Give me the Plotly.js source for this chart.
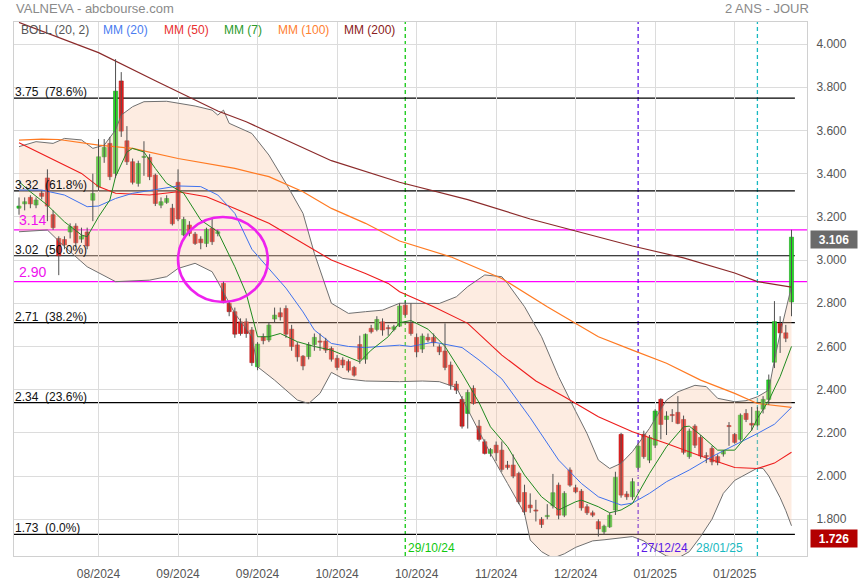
<!DOCTYPE html>
<html>
<head>
<meta charset="utf-8">
<script src="https://cdn.plot.ly/plotly-3.0.1.min.js"></script>
<style>html,body{margin:0;padding:0;background:#fff}#chart{width:860px;height:580px}</style>
</head>
<body>
<div id="chart"></div>
<script>
// ---- candles (trading-day index 0 = 25/07/2024) ----
const opens = [3.24,3.26,3.29,3.255,3.31,3.38,3.21,3.10,3.095,3.13,3.157,3.097,3.13,3.277,3.339,3.478,3.54,3.401,3.829,3.552,
3.455,3.355,3.475,3.475,3.393,3.254,3.267,3.24,3.36,3.116,3.162,3.12,3.097,3.077,3.147,3.123,2.892,2.80,2.761,2.714,
2.714,2.676,2.506,2.645,2.63,2.727,2.756,2.776,2.68,2.607,2.555,2.553,2.609,2.625,2.625,2.591,2.545,2.537,2.53,2.503,
2.609,2.541,2.684,2.679,2.714,2.686,2.679,2.694,2.791,2.707,2.642,2.588,2.642,2.642,2.598,2.579,2.514,2.426,2.355,2.29,
2.406,2.231,2.159,2.105,2.143,2.12,2.051,2.051,2.012,1.924,1.866,1.843,1.80,1.812,1.863,1.958,1.819,2.028,1.946,1.93,
1.858,1.83,1.789,1.742,1.765,1.843,2.193,1.917,1.904,2.04,2.193,2.074,2.143,2.355,2.262,2.285,2.295,2.262,2.09,2.231,
2.179,2.095,2.128,2.09,2.102,2.233,2.193,2.17,2.29,2.244,2.236,2.31,2.355,2.527,2.706,2.663,2.806];
const highs = [3.29,3.29,3.30,3.29,3.32,3.42,3.23,3.11,3.11,3.17,3.17,3.15,3.15,3.40,3.56,3.56,3.57,3.93,3.87,3.62,
3.47,3.46,3.55,3.49,3.40,3.29,3.30,3.26,3.42,3.20,3.18,3.13,3.11,3.15,3.193,3.14,2.90,2.81,2.78,2.73,
2.73,2.69,2.62,2.66,2.71,2.78,2.78,2.79,2.70,2.62,2.56,2.62,2.66,2.66,2.64,2.60,2.56,2.55,2.54,2.51,
2.65,2.66,2.70,2.74,2.73,2.70,2.70,2.80,2.81,2.80,2.66,2.66,2.66,2.66,2.61,2.707,2.53,2.44,2.37,2.40,
2.42,2.26,2.17,2.13,2.16,2.16,2.07,2.10,2.02,1.96,1.92,1.89,1.81,1.87,2.01,1.97,1.93,2.04,1.96,1.94,
1.87,1.84,1.80,1.775,1.83,2.02,2.20,1.93,1.99,2.15,2.21,2.19,2.31,2.36,2.30,2.31,2.37,2.28,2.22,2.24,
2.19,2.11,2.14,2.10,2.12,2.25,2.20,2.29,2.31,2.32,2.32,2.37,2.47,2.81,2.74,2.70,3.14];
const lows = [3.21,3.23,3.24,3.24,3.28,3.18,3.14,2.93,3.05,3.10,3.06,3.08,3.05,3.18,3.32,3.45,3.37,3.38,3.57,3.44,
3.35,3.34,3.39,3.37,3.25,3.24,3.26,3.16,3.18,3.11,3.11,3.07,3.05,3.06,3.07,3.11,2.80,2.74,2.64,2.65,
2.64,2.51,2.49,2.61,2.62,2.71,2.72,2.64,2.58,2.53,2.49,2.54,2.58,2.58,2.57,2.53,2.49,2.50,2.48,2.46,
2.52,2.52,2.66,2.67,2.65,2.65,2.67,2.69,2.74,2.65,2.55,2.57,2.62,2.60,2.56,2.49,2.40,2.38,2.22,2.22,
2.33,2.16,2.10,2.09,2.07,2.02,2.03,1.99,1.87,1.82,1.83,1.79,1.76,1.80,1.85,1.80,1.81,1.95,1.92,1.84,
1.82,1.81,1.72,1.73,1.76,1.82,1.90,1.89,1.89,2.03,2.08,2.06,2.13,2.17,2.19,2.25,2.24,2.10,2.08,2.13,
2.08,2.06,2.05,2.05,2.09,2.14,2.15,2.16,2.25,2.21,2.23,2.29,2.33,2.50,2.57,2.62,2.74];
const closes = [3.25,3.27,3.26,3.278,3.295,3.25,3.15,3.02,3.07,3.155,3.08,3.111,3.065,3.308,3.478,3.521,3.386,3.782,3.597,3.455,
3.36,3.447,3.48,3.386,3.262,3.27,3.285,3.168,3.19,3.188,3.123,3.077,3.08,3.142,3.085,3.131,2.807,2.761,2.657,2.66,
2.66,2.525,2.611,2.627,2.699,2.745,2.737,2.657,2.60,2.552,2.51,2.607,2.642,2.62,2.583,2.541,2.503,2.514,2.49,2.467,
2.541,2.656,2.668,2.725,2.676,2.682,2.691,2.787,2.748,2.66,2.575,2.648,2.63,2.617,2.575,2.503,2.421,2.398,2.231,2.387,
2.336,2.17,2.105,2.123,2.108,2.031,2.04,2.0,1.881,1.835,1.853,1.838,1.776,1.818,1.923,1.819,1.92,1.958,1.927,1.853,
1.83,1.819,1.755,1.768,1.819,1.994,1.912,1.904,1.974,2.139,2.09,2.179,2.301,2.239,2.278,2.28,2.244,2.11,2.208,2.143,
2.093,2.09,2.066,2.063,2.115,2.229,2.156,2.282,2.262,2.236,2.301,2.355,2.445,2.715,2.663,2.638,3.106];

// ---- indicator lines (index : value) ----
const mm200X = [0,14,24,35,40,55,67,79,90,98,108,117,126,130,136];
const mm200Y = [4.10,3.96,3.83,3.69,3.64,3.46,3.36,3.28,3.19,3.135,3.065,3.01,2.94,2.90,2.875];
const mm100X = [0,4,7,14,20,28,38,44,50,55,61,67,76,85,93,102,108,114,120,126,130,136];
const mm100Y = [3.555,3.56,3.558,3.532,3.517,3.47,3.424,3.386,3.316,3.239,3.17,3.088,3.015,2.915,2.784,2.645,2.583,2.522,2.444,2.383,2.336,2.318];
const mm50X = [0,5,11,14,17,23,28,33,38,44,50,55,61,65,67,73,79,85,91,96,102,106,108,114,120,126,130,133,136];
const mm50Y = [3.543,3.478,3.401,3.34,3.309,3.301,3.316,3.293,3.239,3.17,3.077,3.0,2.938,2.892,2.853,2.784,2.707,2.56,2.44,2.367,2.275,2.228,2.205,2.151,2.093,2.04,2.035,2.06,2.11];
const mm20X = [0,4,8,12,14,17,20,25,28,32,35,38,41,44,47,50,52,55,58,61,64,67,69,73,78,81,85,90,95,99,102,106,108,111,114,118,122,126,130,133,136];
const mm20Y = [3.324,3.324,3.301,3.247,3.25,3.285,3.309,3.332,3.343,3.34,3.301,3.216,3.05,2.96,2.87,2.76,2.676,2.614,2.6,2.595,2.6,2.606,2.6,2.62,2.595,2.537,2.45,2.27,2.074,1.966,1.904,1.866,1.875,1.92,1.974,2.028,2.09,2.143,2.197,2.24,2.318];
const mm7X = [0,2,5,8,11,12,14,16,17,19,20,22,24,26,29,32,35,38,40,42,44,46,49,52,55,58,60,62,65,67,69,72,75,78,81,83,86,89,92,95,98,99,102,104,106,108,111,114,117,118,120,123,126,129,130,132,134,136];
const mm7Y = [3.363,3.316,3.254,3.177,3.116,3.108,3.2,3.278,3.386,3.5,3.517,3.5,3.424,3.355,3.309,3.185,3.131,2.969,2.846,2.645,2.645,2.66,2.622,2.6,2.583,2.552,2.529,2.583,2.645,2.71,2.72,2.68,2.6,2.475,2.34,2.228,2.136,2.005,1.904,1.843,1.881,1.889,1.858,1.83,1.843,1.873,2.012,2.136,2.228,2.231,2.19,2.12,2.12,2.213,2.267,2.35,2.46,2.60];
const bollUpX = [0,3,6,8,11,13,15,17,18,20,22,26,31,34,35,36,37,41,44,47,50,52,55,58,61,64,67,70,74,77,79,82,85,86,89,92,95,98,100,102,104,106,108,111,114,116,119,121,123,126,128,130,132,133,134,136];
const bollUpY = [3.525,3.548,3.54,3.563,3.556,3.517,3.532,3.602,3.671,3.71,3.733,3.735,3.713,3.694,3.671,3.694,3.633,3.586,3.486,3.355,3.216,3.031,2.8,2.753,2.761,2.768,2.8,2.799,2.799,2.83,2.877,2.931,2.923,2.892,2.784,2.645,2.46,2.3,2.197,2.074,2.035,2.059,2.113,2.221,2.352,2.39,2.42,2.414,2.36,2.344,2.349,2.367,2.398,2.537,2.66,2.877];
const bollLoX = [0,5,8,12,17,23,26,28,31,34,35,38,41,42,45,49,51,53,55,57,61,67,71,74,77,80,83,86,89,90,92,94,96,98,99,101,103,106,108,110,112,114,116,118,120,122,124,126,128,130,131,132,133,134,135,136];
const bollLoY = [3.131,3.139,3.062,2.969,2.9,2.907,2.923,2.961,2.985,2.946,2.9,2.753,2.645,2.506,2.444,2.352,2.336,2.383,2.48,2.452,2.44,2.437,2.44,2.437,2.41,2.259,2.105,1.966,1.827,1.704,1.65,1.62,1.64,1.67,1.68,1.70,1.705,1.715,1.72,1.70,1.66,1.63,1.62,1.65,1.72,1.80,1.92,1.98,2.01,2.037,2.035,2.0,1.95,1.90,1.84,1.77];

// ---- axis ticks ----
const tickIdx = [14,28,42,56,70,84,98,112,126];
const tickText = ['08/2024','09/2024','09/2024','10/2024','10/2024','11/2024','12/2024','01/2025','01/2025'];

// ---- levels and markers ----
const fibLevels = [3.75,3.32,3.02,2.71,2.34,1.73];
const fibPct = ['78.6%','61.8%','50.0%','38.2%','23.6%','0.0%'];
const pinkLevels = [3.14,2.90];
const eventIdx = [68,109,130];
const eventText = ['29/10/24','27/12/24','28/01/25'];
const eventColor = ['#10c810','#5a18e6','#18b8c0'];
const circleBox = {i0:28.0, i1:43.8, lo:2.806, hi:3.199};
const lastClose = 3.106, lowTag = 1.726;

const n = closes.length;
const idx = Array.from({length:n},(_,i)=>i);
const xRange = [-0.88, 138.73];
const yRange = [1.630, 4.102];

// wicks
const wx=[], wy=[];
for(let i=0;i<n;i++){ wx.push(i,i,null); wy.push(lows[i],highs[i],null); }
const base = idx.map(i=>Math.min(opens[i],closes[i]));
const hgt = idx.map(i=>Math.max(Math.abs(closes[i]-opens[i]),0.005));
const up = idx.map(i=>closes[i]>=opens[i]);

const FONT = 'Liberation Sans, Arial, sans-serif';
const traces = [
 {x:bollLoX,y:bollLoY,type:'scatter',mode:'lines',line:{color:'#707070',width:1},hoverinfo:'skip',showlegend:false},
 {x:bollUpX,y:bollUpY,type:'scatter',mode:'lines',line:{color:'#707070',width:1},fill:'tonexty',fillcolor:'rgba(250,196,165,0.33)',hoverinfo:'skip',showlegend:false},
 {x:mm200X,y:mm200Y,type:'scatter',mode:'lines',line:{color:'#8b2a2a',width:1.2},hoverinfo:'skip',showlegend:false},
 {x:mm100X,y:mm100Y,type:'scatter',mode:'lines',line:{color:'#ff7a22',width:1.2},hoverinfo:'skip',showlegend:false},
 {x:mm50X,y:mm50Y,type:'scatter',mode:'lines',line:{color:'#ee1c1c',width:1.1},hoverinfo:'skip',showlegend:false},
 {x:mm20X,y:mm20Y,type:'scatter',mode:'lines',line:{color:'#3f72ee',width:1},hoverinfo:'skip',showlegend:false},
 {x:mm7X,y:mm7Y,type:'scatter',mode:'lines',line:{color:'#1f8a1f',width:1},hoverinfo:'skip',showlegend:false},
 {x:wx,y:wy,type:'scatter',mode:'lines',line:{color:'#505050',width:1},hoverinfo:'skip',showlegend:false,connectgaps:false},
 {x:idx,y:hgt,base:base,type:'bar',width:0.72,
  marker:{color:up.map(u=>u?'#22dd22':'#ee1c1c'),line:{color:up.map(u=>u?'#17a017':'#b01010'),width:0.6}},
  hoverinfo:'skip',showlegend:false}
];

const shapes = [];
fibLevels.forEach(v=>shapes.push({type:'line',xref:'x',yref:'y',x0:xRange[0],x1:n-1+0.6,y0:v,y1:v,line:{color:'#000',width:1.2},layer:'below'}));
pinkLevels.forEach(v=>shapes.push({type:'line',xref:'paper',yref:'y',x0:0,x1:1,y0:v,y1:v,line:{color:'#ff00ff',width:1.3},layer:'below'}));
eventIdx.forEach((e,k)=>shapes.push({type:'line',xref:'x',yref:'paper',x0:e,x1:e,y0:0,y1:1,line:{color:eventColor[k],width:1.3,dash:'4px,3px'},layer:'below'}));
shapes.push({type:'circle',xref:'x',yref:'y',x0:circleBox.i0,x1:circleBox.i1,y0:circleBox.lo,y1:circleBox.hi,line:{color:'#ee22ee',width:2.6},layer:'above'});

const ann = [];
ann.push({xref:'paper',yref:'paper',x:0,y:1,xanchor:'left',yanchor:'middle',yshift:14,showarrow:false,text:'VALNEVA - abcbourse.com',font:{family:FONT,size:13,color:'#8a8a8a'}});
ann.push({xref:'paper',yref:'paper',x:1.005,y:1,xanchor:'right',yanchor:'middle',yshift:14,showarrow:false,text:'2 ANS - JOUR',font:{family:FONT,size:13,color:'#8a8a8a'}});
const legendItems = [['BOLL (20, 2)','#555555',19],['MM (20)','#4a7cf0',101],['MM (50)','#e83030',162],['MM (7)','#2a9a2a',222],['MM (100)','#ff8030',276],['MM (200)','#8b2020',342]];
legendItems.forEach(([t,c,px])=>ann.push({xref:'paper',yref:'paper',x:(px-14)/793,y:1,xanchor:'left',yanchor:'middle',yshift:-8,showarrow:false,text:t,font:{family:FONT,size:12,color:c}}));
fibLevels.forEach((v,k)=>ann.push({xref:'paper',yref:'y',x:0,y:v,xanchor:'left',yanchor:'bottom',yshift:-3,xshift:-1,showarrow:false,text:v.toFixed(2)+'\u00a0\u00a0('+fibPct[k]+')',font:{family:FONT,size:12,color:'#111'}}));
pinkLevels.forEach(v=>ann.push({xref:'paper',yref:'y',x:0,y:v,xanchor:'left',yanchor:'bottom',yshift:0,xshift:3,showarrow:false,text:v.toFixed(2),font:{family:FONT,size:14,color:'#ee11ee'}}));
eventIdx.forEach((e,k)=>ann.push({xref:'x',yref:'paper',x:e,y:0,xanchor:k===2?'right':'left',xshift:k===2?-12:1,yanchor:'bottom',yshift:-1,showarrow:false,text:eventText[k],font:{family:FONT,size:12,color:eventColor[k]}}));
ann.push({xref:'paper',yref:'y',x:1,y:lastClose,xanchor:'left',yanchor:'middle',xshift:3,yshift:-2,showarrow:false,text:'<b>'+lastClose.toFixed(3)+'</b>',bgcolor:'#6a6a6a',width:44,height:15,font:{family:FONT,size:12,color:'#fff'}});
ann.push({xref:'paper',yref:'y',x:1,y:lowTag,xanchor:'left',yanchor:'middle',xshift:3,yshift:-3,showarrow:false,text:'<b>'+lowTag.toFixed(3)+'</b>',bgcolor:'#b30000',width:44,height:15,font:{family:FONT,size:12,color:'#fff'}});

const layout = {
 width:860,height:580,
 margin:{l:14,r:53,t:22,b:24,pad:0},
 paper_bgcolor:'#fff',plot_bgcolor:'#fff',
 font:{family:FONT,size:12,color:'#555'},
 showlegend:false,barmode:'overlay',hovermode:false,
 xaxis:{range:xRange,tickmode:'array',tickvals:tickIdx,ticktext:tickText,showgrid:true,gridcolor:'#dcdcdc',gridwidth:1,
   zeroline:false,showline:true,linecolor:'#d0d0d0',linewidth:1,mirror:true,ticks:'outside',ticklen:7,tickcolor:'rgba(0,0,0,0)',
   tickfont:{family:FONT,size:12,color:'#555'},fixedrange:true},
 yaxis:{range:yRange,side:'right',tick0:0,dtick:0.2,tickformat:'.3f',showgrid:true,gridcolor:'#dcdcdc',gridwidth:1,
   zeroline:false,showline:true,linecolor:'#d0d0d0',linewidth:1,mirror:true,ticks:'outside',ticklen:6,tickcolor:'rgba(0,0,0,0)',
   tickfont:{family:FONT,size:12,color:'#555'},fixedrange:true},
 shapes:shapes,annotations:ann
};
Plotly.newPlot('chart',traces,layout,{staticPlot:true,displayModeBar:false});
</script>
</body>
</html>
